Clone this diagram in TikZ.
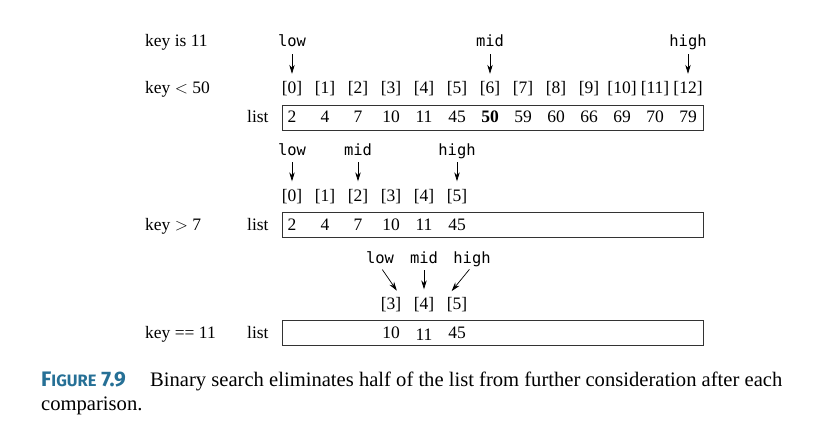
\documentclass[tikz,border=0pt]{standalone}
\usepackage{fontspec}
\setmainfont{Liberation Serif}
\setmonofont{DejaVu Sans Mono}
\newfontfamily\capfont{Fira Sans}
\usepackage{tikz}
\usetikzlibrary{arrows.meta}
\definecolor{figteal}{RGB}{38,112,150}
\tikzset{
  lbl/.style={anchor=base west, inner sep=0pt, font=\fontsize{17.5}{20}\selectfont},
  idx/.style={anchor=base, inner sep=0pt, text height=12pt, text depth=4pt, font=\fontsize{17.5}{20}\selectfont},
  val/.style={anchor=base, inner sep=0pt, font=\fontsize{17.5}{20}\selectfont},
  ptr/.style={anchor=base, inner sep=0pt, text height=11pt, text depth=3pt, font=\ttfamily\fontsize{15.5}{18}\selectfont},
  listbox/.style={draw=black!80, line width=0.9pt, minimum width=421pt, minimum height=25pt, inner sep=0pt},
  ptrarrow/.style={-{Stealth[length=9pt,width=5.5pt]}, line width=0.7pt, shorten <=4pt, shorten >=8pt},
  captxt/.style={anchor=base west, inner sep=0pt, font=\fontsize{20.6}{24}\selectfont}
}
\begin{document}
\begin{tikzpicture}[x=1pt, y=-1pt]
        \useasboundingbox (0,0) rectangle (839,436);

        % First step
        \node[lbl] (keyA) at (145,47) {key is 11};
        \node[lbl] (cmpA) at (145,94) {key $<$ 50};
        \node[lbl] (listA) at (247,122.5) {list};
        \node[listbox] (boxA) at (492.5,117.5) {};
        \foreach \v [count=\i from 0] in {2,4,7,10,11,45,\textbf{50},59,60,66,69,70,79} {
          \node[idx] (iA\i) at (292+33*\i,94) {[\i]};
          \node[val] (vA\i) at (292+33*\i,122.5) {\v};
        }
        \node[ptr] (lowA) at (292,47) {low};
        \node[ptr] (midA) at (490,47) {mid};
        \node[ptr] (highA) at (688,47) {high};

        % Second step
        \node[lbl] (cmpB) at (145,230.5) {key $>$ 7};
        \node[lbl] (listB) at (247,230.5) {list};
        \node[listbox] (boxB) at (492.5,225) {};
        \foreach \v [count=\i from 0] in {2,4,7,10,11,45} {
          \node[idx] (iB\i) at (292+33*\i,201.5) {[\i]};
          \node[val] (vB\i) at (292+33*\i,230.5) {\v};
        }
        \node[ptr] (lowB) at (292,155) {low};
        \node[ptr] (midB) at (358,155) {mid};
        \node[ptr] (highB) at (457,155) {high};

        % Third step
        \node[lbl] (cmpC) at (145,338.5) {key == 11};
        \node[lbl] (listC) at (247,338.5) {list};
        \node[listbox] (boxC) at (492.5,333) {};
        \foreach \i in {3,4,5} {
          \node[idx] (iC\i) at (292+33*\i,309.5) {[\i]};
        }
        \node[val] (vC3) at (391,338.5) {10};
        \node[val] (vC4) at (424,340) {11};
        \node[val] (vC5) at (457,338.5) {45};
        \node[ptr] (lowC) at (380,263) {low};
        \node[ptr] (midC) at (424,263) {mid};
        \node[ptr] (highC) at (472,263) {high};

        % Pointers
        \draw[ptrarrow] (lowA) -- (iA0);
        \draw[ptrarrow] (midA) -- (iA6);
        \draw[ptrarrow] (highA) -- (iA12);
        \draw[ptrarrow] (lowB) -- (iB0);
        \draw[ptrarrow] (midB) -- (iB2);
        \draw[ptrarrow] (highB) -- (iB5);
        \draw[ptrarrow] (lowC.south) -- (iC3.north east);
        \draw[ptrarrow] (midC) -- (iC4);
        \draw[ptrarrow] (highC.south) -- (iC5.north west);

        % Caption
        \node[anchor=base west, inner sep=0pt, text=figteal, font=\capfont\bfseries\fontsize{21}{24}\selectfont] (capA) at (41,386.5) {F{\fontsize{16.5}{18}\selectfont IGURE} 7.9};
        \node[captxt] (capB) at (150,386.5) {Binary search eliminates half of the list from further consideration after each};
        \node[captxt] (capC) at (41,410.5) {comparison.};
\end{tikzpicture}
\end{document}
